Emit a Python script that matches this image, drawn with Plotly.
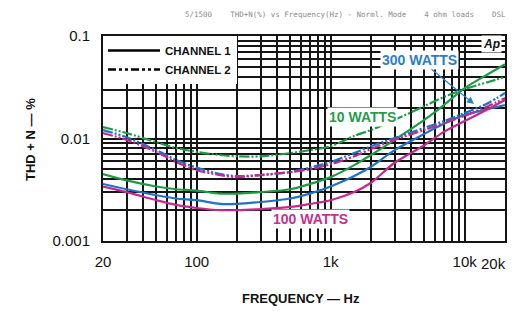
import plotly.graph_objects as go

freq = [20, 30, 50, 70, 100, 150, 200, 300, 500, 700, 1000, 1500, 2000, 3000, 5000, 7000, 10000, 15000, 20000]

w10_ch1 = [0.0045, 0.0039, 0.0034, 0.0032, 0.0031, 0.0029, 0.0029, 0.0030, 0.0032, 0.0036, 0.0042, 0.0055, 0.0069, 0.0097, 0.0152, 0.0212, 0.031, 0.0426, 0.053]
w10_ch2 = [0.0129, 0.0113, 0.0092, 0.0081, 0.0074, 0.0069, 0.0067, 0.0067, 0.0072, 0.0077, 0.0084, 0.0106, 0.0121, 0.0152, 0.0207, 0.0254, 0.0304, 0.0356, 0.0398]
w300_ch1 = [0.0036, 0.0032, 0.0028, 0.0026, 0.0025, 0.0023, 0.0023, 0.0024, 0.0026, 0.0029, 0.0034, 0.0043, 0.0053, 0.0077, 0.0111, 0.0139, 0.0170, 0.0194, 0.0212]
w300_ch2 = [0.0121, 0.0103, 0.0077, 0.0062, 0.0052, 0.0045, 0.0043, 0.0044, 0.0047, 0.0052, 0.0059, 0.0072, 0.0084, 0.0101, 0.0127, 0.0148, 0.0177, 0.0222, 0.0278]
w100_ch1 = [0.0034, 0.0030, 0.0025, 0.00225, 0.0021, 0.0020, 0.0020, 0.00205, 0.00215, 0.0023, 0.0025, 0.0030, 0.0037, 0.0058, 0.0086, 0.0116, 0.0148, 0.0194, 0.0237]
w100_ch2 = [0.0113, 0.0097, 0.0074, 0.0059, 0.0049, 0.0044, 0.0042, 0.0044, 0.0047, 0.0050, 0.0056, 0.0067, 0.0079, 0.0097, 0.0121, 0.0142, 0.0166, 0.0207, 0.0248]

x_grid = [20, 30, 40, 50, 60, 70, 80, 90, 100, 200, 300, 400, 500, 600, 700, 800, 900,
          1000, 2000, 3000, 4000, 5000, 6000, 7000, 8000, 9000, 10000, 20000]
x_labels = {20: "20", 100: "100", 1000: "1k", 10000: "10k"}
x_edge_label = "20k"
y_grid = [0.001, 0.002, 0.003, 0.004, 0.005, 0.006, 0.007, 0.008, 0.009,
          0.01, 0.02, 0.03, 0.04, 0.05, 0.06, 0.07, 0.08, 0.09, 0.1]
y_labels = {0.001: "0.001", 0.01: "0.01", 0.1: "0.1"}

GREEN = "#1f9a45"
BLUE = "#1f72c4"
MAGENTA = "#c42a8c"
CH2_DASH = "10px,2px,2px,2px,2px,2px"

fig = go.Figure()

series = [
    (w10_ch1, GREEN, "solid"),
    (w300_ch1, BLUE, "solid"),
    (w100_ch1, MAGENTA, "solid"),
    (w10_ch2, GREEN, CH2_DASH),
    (w300_ch2, BLUE, CH2_DASH),
    (w100_ch2, MAGENTA, CH2_DASH),
]
for vals, col, dash in series:
    fig.add_trace(go.Scatter(x=freq, y=vals, mode="lines",
                             line=dict(color=col, width=2.2, dash=dash, shape="spline", smoothing=0.8),
                             showlegend=False, hoverinfo="skip"))

# legend entries
fig.add_trace(go.Scatter(x=[None], y=[None], mode="lines", name="CHANNEL 1",
                         line=dict(color="black", width=2.5)))
fig.add_trace(go.Scatter(x=[None], y=[None], mode="lines", name="CHANNEL 2",
                         line=dict(color="black", width=2.5, dash="8px,3px,3px,3px,3px,3px")))

axis_font = dict(family="Liberation Sans", size=15, color="#111")

fig.update_xaxes(type="log", range=[1.30103, 4.301035], automargin=False,
                 tickvals=x_grid, ticktext=[x_labels.get(v, "") for v in x_grid],
                 showgrid=True, gridcolor="#151515", gridwidth=1.6,
                 showline=True, linecolor="#151515", linewidth=2, mirror=True,
                 ticks="", tickfont=axis_font, ticklabelstandoff=6, zeroline=False,
                 ticklabeloverflow="allow")
fig.update_yaxes(type="log", range=[-3, -1], automargin=False,
                 tickvals=y_grid, ticktext=[y_labels.get(v, "") for v in y_grid],
                 showgrid=True, gridcolor="#151515", gridwidth=1.6,
                 showline=True, linecolor="#151515", linewidth=2, mirror=True,
                 ticks="", tickfont=axis_font, ticklabelstandoff=8, zeroline=False,
                 ticklabeloverflow="allow")


def px_x(p):
    return (p - 103) / 402


def px_y(p):
    return (241 - p) / 205


def label(xp, yp, text, font, **kw):
    fig.add_annotation(x=px_x(xp), y=px_y(yp), xref="paper", yref="paper", text=text,
                       xanchor="center", yanchor="middle", showarrow=False, font=font, **kw)


# last tick label sits at the window edge, so it is right-aligned to stay visible
fig.add_annotation(x=px_x(508), y=px_y(263), xref="paper", yref="paper", text=x_edge_label,
                   xanchor="right", yanchor="middle", showarrow=False, font=axis_font)

title_font = dict(family="Liberation Sans", size=13, color="#111", weight="bold")
label(301, 298, "FREQUENCY — Hz", title_font)
label(30, 140, "THD + N — %", title_font, textangle=-90)

lab_font = dict(family="Liberation Sans", size=14, weight="bold")
label(419, 60, "300 WATTS", dict(color="#2a7fc4", **lab_font), bgcolor="white", borderpad=1)
label(362, 117, "10 WATTS", dict(color="#2a9a4c", **lab_font), bgcolor="white", borderpad=1)
label(310, 219, "100 WATTS", dict(color="#c4308e", **lab_font), bgcolor="white", borderpad=1)
label(491, 44, "<i>Ap</i>", dict(family="Liberation Sans", size=12, color="#111", weight="bold"),
      bgcolor="white", borderpad=1)
fig.add_annotation(x=px_x(474), y=px_y(104), xref="paper", yref="paper", text="",
                   showarrow=True, ax=-44, ay=-36, arrowcolor="#2a7fc4", arrowwidth=1.2,
                   arrowhead=2, arrowsize=1.2)
fig.add_annotation(x=px_x(508), y=px_y(15), xref="paper", yref="paper", xanchor="right", yanchor="middle",
                   text="5/1500    THD+N(%) vs Frequency(Hz) - Norml. Mode    4 ohm loads    DSL",
                   showarrow=False, font=dict(family="DejaVu Sans Mono", size=7.5, color="#8a8a8a"))

# the page adds an 8px body margin, so the figure is sized to fit the remaining window
fig.update_layout(
    width=509, height=303,
    margin=dict(l=95, r=12, t=28, b=70),
    paper_bgcolor="white", plot_bgcolor="white",
    legend=dict(x=0.0, y=1.0, xanchor="left", yanchor="top", bgcolor="white",
                borderwidth=0, font=dict(family="Liberation Sans", size=11.5, color="#111", weight="bold"),
                tracegroupgap=0, itemwidth=52),
)

fig.write_html("out.html")
